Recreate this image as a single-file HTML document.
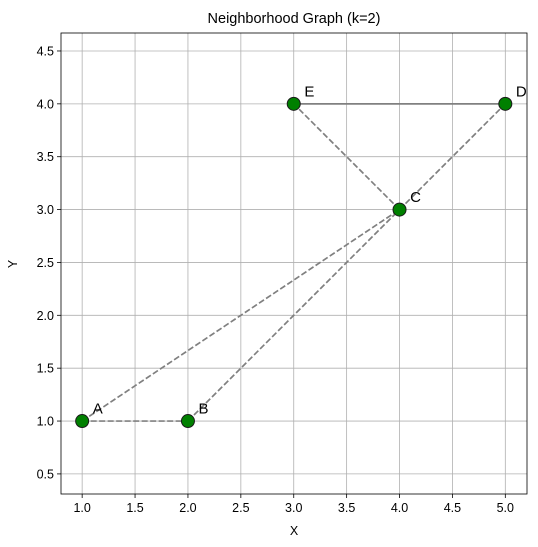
<!DOCTYPE html>
<html><head><meta charset="utf-8"><style>
body{margin:0;background:#fff;}
svg{display:block;font-family:"Liberation Sans","DejaVu Sans",sans-serif;}
</style></head><body>
<svg id="chart" width="538" height="547">
<rect x="0" y="0" width="538" height="547" fill="#fff"/>
<text x="294" y="23" font-size="14.5" text-anchor="middle">Neighborhood Graph (k=2)</text>
<g id="grid"></g><g id="edges"></g><g id="nodes"></g><g id="axes"></g>
<text x="294" y="535" font-size="12.5" text-anchor="middle">X</text>
<text x="17" y="264" font-size="12.5" text-anchor="middle" transform="rotate(-90 17 264)">Y</text>
</svg>
<script>
const names=["A","B","C","D","E"];
const xs=[1,2,4,5,3];
const ys=[1,1,3,4,4];
const edgesFrom=[0,0,1,2,2,4];
const edgesTo=[1,2,2,4,3,3];
const edgeDashed=[1,1,1,1,1,0];
const xTicks=[1.0,1.5,2.0,2.5,3.0,3.5,4.0,4.5,5.0];
const yTicks=[0.5,1.0,1.5,2.0,2.5,3.0,3.5,4.0,4.5];
const L=61,R=527,T=33,B=494,xmin=0.80,xmax=5.205,ymin=0.31,ymax=4.67;
const X=v=>L+(v-xmin)/(xmax-xmin)*(R-L);
const Y=v=>B-(v-ymin)/(ymax-ymin)*(B-T);
const NS="http://www.w3.org/2000/svg";
function mk(tag,attrs,parent){const e=document.createElementNS(NS,tag);for(const k in attrs)e.setAttribute(k,attrs[k]);document.getElementById(parent).appendChild(e);return e;}
xTicks.forEach(t=>{
 const g=mk("line",{x1:X(t),x2:X(t),y1:T,y2:B,stroke:"#b0b0b0","stroke-width":0.8},"grid");
 
 
 const k=mk("line",{x1:X(t),x2:X(t),y1:B,y2:B+4,stroke:"#000","stroke-width":0.8},"axes");
 
 
 const l=mk("text",{x:X(t),y:B+18,"font-size":12.5,"text-anchor":"middle"},"axes");l.textContent=t.toFixed(1);
 
 
});
yTicks.forEach(t=>{
 const g=mk("line",{x1:L,x2:R,y1:Y(t),y2:Y(t),stroke:"#b0b0b0","stroke-width":0.8},"grid");
 
 
 const k=mk("line",{x1:L-4,x2:L,y1:Y(t),y2:Y(t),stroke:"#000","stroke-width":0.8},"axes");
 
 
 const l=mk("text",{x:L-7,y:Y(t)+4.5,"font-size":12.5,"text-anchor":"end"},"axes");l.textContent=t.toFixed(1);
 
 
});
const fr=mk("rect",{x:L,y:T,width:R-L,height:B-T,fill:"none",stroke:"#000","stroke-width":0.8},"axes");


edgesFrom.forEach((a,i)=>{
 const b=edgesTo[i];
 const e=mk("line",{x1:X(xs[a]),y1:Y(ys[a]),x2:X(xs[b]),y2:Y(ys[b]),stroke:"#808080","stroke-width":1.7},"edges");
 if(edgeDashed[i])e.setAttribute("stroke-dasharray","6,2.5");
 
 
});
names.forEach((n,i)=>{
 const c=mk("circle",{cx:X(xs[i]),cy:Y(ys[i]),r:6.5,fill:"#008000",stroke:"#1a1a1a","stroke-width":1},"nodes");
 
 
 const t=mk("text",{x:X(xs[i]+0.1),y:Y(ys[i]+0.1)+3,"font-size":15},"nodes");t.textContent=n;
 
 
});
</script>
</body></html>
